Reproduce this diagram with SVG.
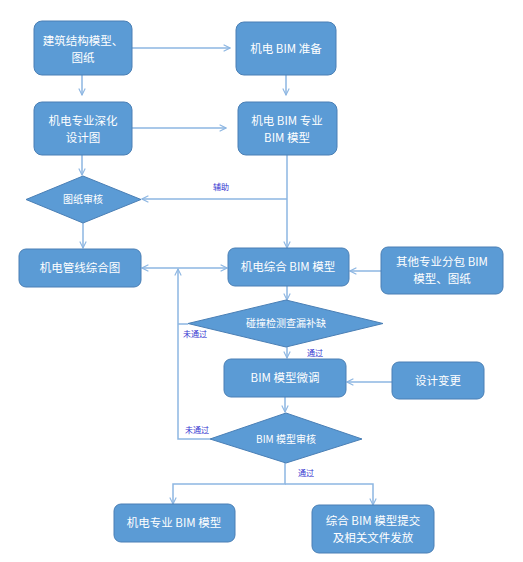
<svg xmlns="http://www.w3.org/2000/svg" width="523" height="562" viewBox="0 0 523 562">
<style>
.box{fill:#5b9bd5;stroke:#4a7fb5;stroke-width:1}
.t{font-family:"Noto Sans CJK SC","Liberation Sans",sans-serif;fill:#fff;font-size:11.5px;text-anchor:middle}
.td{font-family:"Noto Sans CJK SC","Liberation Sans",sans-serif;fill:#fff;font-size:10px;text-anchor:middle}
.lb{font-family:"Noto Sans CJK SC","Liberation Sans",sans-serif;fill:#3535d0;font-size:8px;text-anchor:middle}
.ln{fill:none;stroke:#8db6e2;stroke-width:1.5}
</style>
<defs>
<marker id="ah" viewBox="0 0 10 10" refX="9" refY="5" markerWidth="8" markerHeight="8" markerUnits="userSpaceOnUse" orient="auto-start-reverse">
<path d="M1,1 L9,5 L1,9" fill="none" stroke="#8db6e2" stroke-width="1.4"/>
</marker>
</defs>
<rect width="523" height="562" fill="#fff"/>
<g id="connectors">
<path class="ln" d="M132,48 H230" marker-end="url(#ah)"/>
<path class="ln" d="M82,75 V95" marker-end="url(#ah)"/>
<path class="ln" d="M286,75 V95" marker-end="url(#ah)"/>
<path class="ln" d="M132,128 H226" marker-end="url(#ah)"/>
<path class="ln" d="M82,155 V175" marker-end="url(#ah)"/>
<path class="ln" d="M287,155 V248" marker-end="url(#ah)"/>
<path class="ln" d="M287,199 H142" marker-end="url(#ah)"/>
<path class="ln" d="M83,223 V248" marker-end="url(#ah)"/>
<path class="ln" d="M142,268 H227" marker-start="url(#ah)" marker-end="url(#ah)"/>
<path class="ln" d="M381,271 H350" marker-end="url(#ah)"/>
<path class="ln" d="M287,286 V300" marker-end="url(#ah)"/>
<path class="ln" d="M188,324 H178"/>
<path class="ln" d="M210,439 H178 V269" marker-end="url(#ah)"/>
<path class="ln" d="M287,347 V358" marker-end="url(#ah)"/>
<path class="ln" d="M392,382 H347" marker-end="url(#ah)"/>
<path class="ln" d="M285,397 V412" marker-end="url(#ah)"/>
<path class="ln" d="M285,463 V484 H173 V504" marker-end="url(#ah)"/>
<path class="ln" d="M285,484 H373 V505" marker-end="url(#ah)"/>
<text class="lb" x="221" y="190">辅助</text>
<text class="lb" x="195" y="337">未通过</text>
<text class="lb" x="315" y="356">通过</text>
<text class="lb" x="197" y="433">未通过</text>
<text class="lb" x="306" y="476">通过</text>
</g>
<g id="n1"><rect class="box" x="34" y="21" width="98" height="54" rx="8"/><text class="t" x="83" y="45">建筑结构模型、</text><text class="t" x="83" y="62">图纸</text></g>
<g id="n2"><rect class="box" x="236" y="22" width="100" height="53" rx="8"/><text class="t" x="286" y="53">机电 BIM 准备</text></g>
<g id="n3"><rect class="box" x="34" y="102" width="98" height="53" rx="8"/><text class="t" x="83" y="125">机电专业深化</text><text class="t" x="83" y="142">设计图</text></g>
<g id="n4"><rect class="box" x="238" y="102" width="99" height="53" rx="8"/><text class="t" x="287" y="125">机电 BIM 专业</text><text class="t" x="287" y="142">BIM 模型</text></g>
<g id="n5"><polygon class="box" points="83,176 141,199.5 83,223 26,199.5"/><text class="td" x="83" y="203">图纸审核</text></g>
<g id="n6"><rect class="box" x="19" y="249" width="122" height="38" rx="7"/><text class="t" x="80" y="272">机电管线综合图</text></g>
<g id="n7"><rect class="box" x="228" y="248" width="121" height="38" rx="7"/><text class="t" x="288" y="271">机电综合 BIM 模型</text></g>
<g id="n8"><rect class="box" x="381" y="247" width="122" height="47" rx="7"/><text class="t" x="442" y="266">其他专业分包 BIM</text><text class="t" x="442" y="283">模型、图纸</text></g>
<g id="n9"><polygon class="box" points="286,300 383,323.5 286,347 188,323.5"/><text class="td" x="286" y="327">碰撞检测查漏补缺</text></g>
<g id="n10"><rect class="box" x="224" y="359" width="122" height="38" rx="7"/><text class="t" x="285" y="382">BIM 模型微调</text></g>
<g id="n11"><rect class="box" x="392" y="362" width="92" height="37" rx="7"/><text class="t" x="438" y="385">设计变更</text></g>
<g id="n12"><polygon class="box" points="286,413 362,439 286,463 210,439"/><text class="td" x="286" y="443">BIM 模型审核</text></g>
<g id="n13"><rect class="box" x="114" y="504" width="121" height="38" rx="7"/><text class="t" x="174" y="527">机电专业 BIM 模型</text></g>
<g id="n14"><rect class="box" x="312" y="505" width="122" height="48" rx="7"/><text class="t" x="373" y="525">综合 BIM 模型提交</text><text class="t" x="373" y="542">及相关文件发放</text></g>
</svg>
